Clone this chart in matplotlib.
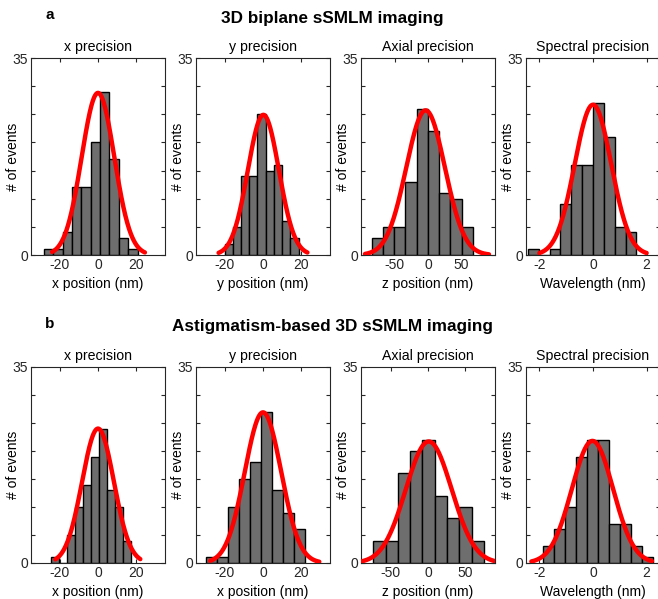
import numpy as np
import matplotlib
matplotlib.use("Agg")
import matplotlib.pyplot as plt

plt.rcParams['font.family'] = ['Liberation Sans', 'DejaVu Sans']
plt.rcParams['axes.unicode_minus'] = False

W, H = 658, 599

row_titles = ["3D biplane sSMLM imaging", "Astigmatism-based 3D sSMLM imaging"]
row_letters = ["a", "b"]
panel_titles = ["x precision", "y precision", "Axial precision", "Spectral precision"]

# --- row a ---
a_xlabels = ["x position (nm)", "y position (nm)", "z position (nm)", "Wavelength (nm)"]
a1_edges = [-28.3, -23.4, -18.5, -13.6, -8.7, -3.8, 1.1, 6.0, 10.9, 15.8, 20.7]
a1_counts = [1, 1, 4, 12, 12, 20, 29, 17, 3, 1]
a2_edges = [-20.1, -15.8, -11.5, -7.2, -2.9, 1.4, 5.7, 10.0, 14.3, 18.6]
a2_counts = [2, 5, 14, 14, 25, 15, 16, 6, 3]
a3_edges = [-84.2, -67.4, -50.6, -33.8, -17.0, -0.2, 16.6, 33.4, 50.2, 67.0]
a3_counts = [3, 5, 5, 13, 26, 22, 11, 10, 5]
a4_edges = [-2.43, -2.025, -1.62, -1.215, -0.81, -0.405, 0.0, 0.405, 0.81, 1.215, 1.62]
a4_counts = [1, 0, 1, 9, 16, 16, 27, 21, 5, 4]
# gaussian fit (amplitude, centre, sigma, x from, x to)
a1_fit = [28.8, 0.0, 8.5, -24.0, 24.5]
a2_fit = [24.9, 0.2, 8.1, -23.2, 23.2]
a3_fit = [25.7, -3.6, 28.8, -94.0, 91.0]
a4_fit = [26.7, 0.0, 0.68, -2.0, 2.0]

# --- row b ---
b_xlabels = ["x position (nm)", "x position (nm)", "z position (nm)", "Wavelength (nm)"]
b1_edges = [-24.3, -20.13, -15.96, -11.79, -7.62, -3.45, 0.72, 4.89, 9.06, 13.23, 17.4]
b1_counts = [1, 0, 5, 10, 14, 19, 24, 13, 10, 4]
b2_edges = [-29.6, -23.9, -18.2, -12.5, -6.8, -1.1, 4.6, 10.3, 16.0, 21.7]
b2_counts = [1, 1, 10, 15, 18, 27, 13, 9, 6]
b3_edges = [-73.4, -56.9, -40.4, -23.9, -7.4, 9.1, 25.6, 42.1, 58.6, 75.1]
b3_counts = [4, 4, 16, 20, 22, 12, 8, 10, 4]
b4_edges = [-1.86, -1.45, -1.04, -0.63, -0.22, 0.19, 0.60, 1.01, 1.42, 1.83, 2.24]
b4_counts = [3, 6, 10, 19, 22, 22, 7, 7, 3, 1]
b1_fit = [24.0, 0.0, 8.3, -22.3, 22.1]
b2_fit = [26.9, 0.0, 9.5, -27.6, 29.4]
b3_fit = [21.7, 1.0, 30.8, -90.0, 90.0]
b4_fit = [21.8, -0.02, 0.77, -2.3, 2.2]

xlims = [(-35, 35), (-35, 35), (-100, 100), (-2.5, 2.5)]
xlims_b = [(-35, 35), (-35, 35), (-90, 90), (-2.5, 2.5)]
xticks = [[-20, 0, 20], [-20, 0, 20], [-50, 0, 50], [-2, 0, 2]]
yticks = [0, 5, 10, 15, 20, 25, 30, 35]
ytick_labels = ["0", "", "", "", "", "", "", "35"]

rows = [
    dict(edges=[a1_edges, a2_edges, a3_edges, a4_edges],
         counts=[a1_counts, a2_counts, a3_counts, a4_counts],
         fits=[a1_fit, a2_fit, a3_fit, a4_fit], xlabels=a_xlabels, xlims=xlims,
         top=58, bottom=255),
    dict(edges=[b1_edges, b2_edges, b3_edges, b4_edges],
         counts=[b1_counts, b2_counts, b3_counts, b4_counts],
         fits=[b1_fit, b2_fit, b3_fit, b4_fit], xlabels=b_xlabels, xlims=xlims_b,
         top=367, bottom=563),
]
col_lefts = [31, 196, 361, 526]
ax_w = 134

fig = plt.figure(figsize=(W / 100, H / 100), dpi=100)
axcol = '#262626'

for r, row in enumerate(rows):
    for c in range(4):
        left = col_lefts[c] / W
        bottom = 1 - row['bottom'] / H
        height = (row['bottom'] - row['top']) / H
        ax = fig.add_axes([left, bottom, ax_w / W, height])
        edges = np.array(row['edges'][c])
        counts = row['counts'][c]
        ax.bar(edges[:-1], counts, width=np.diff(edges), align='edge',
               color='#6e6e6e', edgecolor='black', linewidth=1.0, zorder=2)
        amp, mu, sig, x0, x1 = row['fits'][c]
        xs = np.linspace(x0, x1, 300)
        ax.plot(xs, amp * np.exp(-(xs - mu) ** 2 / (2 * sig ** 2)),
                color='#ff0000', lw=3.2, zorder=3, solid_capstyle='round')
        ax.set_xlim(*row['xlims'][c])
        ax.set_ylim(0, 35)
        ax.set_xticks(xticks[c])
        ax.set_xticklabels([str(v) for v in xticks[c]])
        ax.set_yticks(yticks)
        ax.set_yticklabels(ytick_labels)
        ax.tick_params(direction='in', top=True, right=True, length=3, width=0.8,
                       labelsize=10, colors=axcol, pad=2)
        for s in ax.spines.values():
            s.set_color(axcol)
            s.set_linewidth(0.8)
        ax.set_title(panel_titles[c], fontsize=10.2, color='black', pad=5)
        ax.set_xlabel(row['xlabels'][c], fontsize=10, labelpad=4)
        ax.set_ylabel("# of events", fontsize=10)
        ax.yaxis.set_label_coords(-0.08, 0.5)

    fig.text(45 / W, 1 - (15 + r * 309) / H, row_letters[r], fontsize=11,
             fontweight='bold', ha='left', va='center')
    fig.text(332 / W, 1 - (18 + r * 308) / H, row_titles[r], fontsize=12.3,
             fontweight='bold', ha='center', va='center')

fig.savefig("out.png", dpi=100)
